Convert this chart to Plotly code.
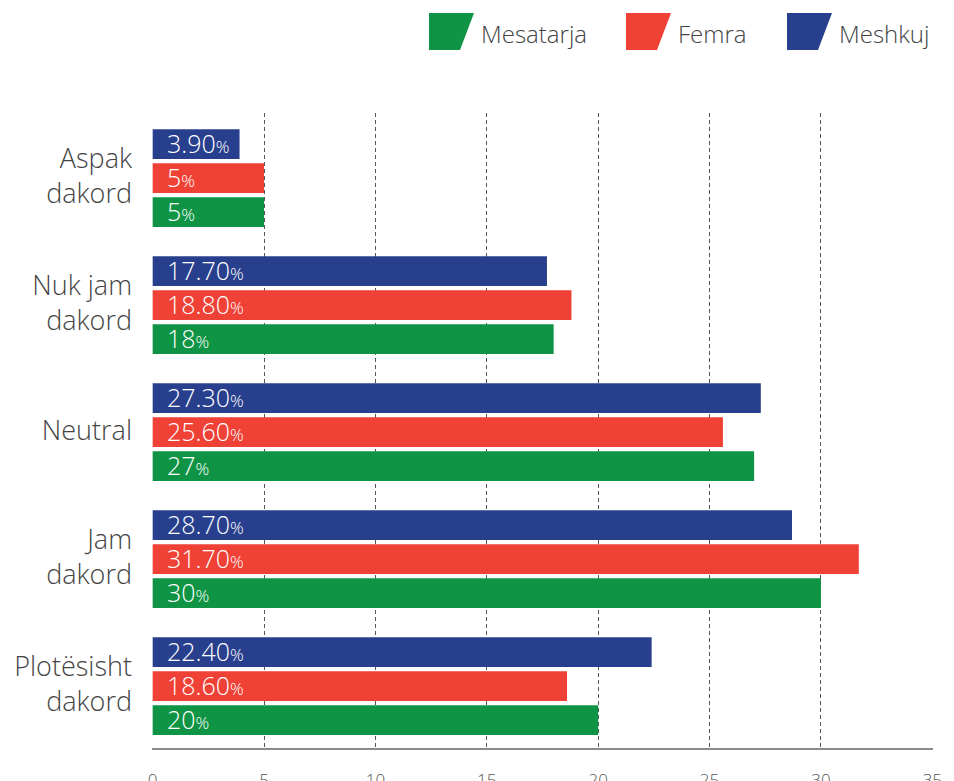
import plotly.graph_objects as go

# Response categories (top to bottom) and shares per group, in percent
categories = ["Aspak<br>dakord", "Nuk jam<br>dakord", "Neutral", "Jam<br>dakord", "Plotësisht<br>dakord"]
meshkuj = [3.9, 17.7, 27.3, 28.7, 22.4]
femra = [5, 18.8, 25.6, 31.7, 18.6]
mesatarja = [5, 18, 27, 30, 20]
x_ticks = [0, 5, 10, 15, 20, 25, 30, 35]

GREEN = "#0e9444"
RED = "#ef4136"
BLUE = "#283f8e"
FONT = "Open Sans"

series = [
    ("Meshkuj", meshkuj, BLUE, -0.372),
    ("Femra", femra, RED, -0.104),
    ("Mesatarja", mesatarja, GREEN, 0.163),
]
BAR_W = 0.234

positions = list(range(len(categories)))


def fmt(v):
    return f"{v:g}" if float(v).is_integer() else f"{v:.2f}"


fig = go.Figure()
annotations = []
for name, vals, color, off in series:
    fig.add_trace(go.Bar(
        name=name, x=vals, y=positions, orientation="h",
        marker=dict(color=color, line=dict(width=0)),
        width=BAR_W, offset=off, showlegend=False,
    ))
    for p, v in zip(positions, vals):
        annotations.append(dict(
            x=0, y=p + off + BAR_W / 2, xref="x", yref="y",
            xanchor="left", yanchor="middle", xshift=12, yshift=1, showarrow=False,
            text=f"{fmt(v)}<span style='font-size:17px'>%</span>",
            font=dict(family=FONT, size=25, color="#ffffff", weight=300),
        ))

# Legend drawn as slanted swatches with labels
L, T = 152, 113
PW, PH = 781, 635


def px_x(px):
    return (px - L) / PW


def px_y(py):
    return (T + PH - py) / PH


legend_items = [("Mesatarja", GREEN, 429), ("Femra", RED, 626), ("Meshkuj", BLUE, 787)]
shapes = []
for label, color, x0 in legend_items:
    pts = [(x0, 13), (x0 + 45, 13), (x0 + 31, 50), (x0, 50)]
    path = "M " + " L ".join(f"{px_x(a):.5f},{px_y(b):.5f}" for a, b in pts) + " Z"
    shapes.append(dict(type="path", xref="paper", yref="paper", path=path,
                       fillcolor=color, line=dict(width=0)))
    annotations.append(dict(
        x=px_x(x0 + 50), y=px_y(33), xref="paper", yref="paper",
        xanchor="left", yanchor="middle", showarrow=False, text=label,
        font=dict(family=FONT, size=24, color="#444444", weight=300),
    ))

fig.update_layout(
    width=954, height=781,
    margin=dict(l=L, r=954 - L - PW, t=T, b=781 - T - PH, autoexpand=False),
    paper_bgcolor="white", plot_bgcolor="white",
    barmode="overlay",
    showlegend=False,
    shapes=shapes,
    annotations=annotations,
    xaxis=dict(
        range=[-0.03, 35.03], tickvals=x_ticks, automargin=False,
        showgrid=True, gridcolor="#555555", gridwidth=1, griddash="4px,3px",
        zeroline=False, showline=True, linecolor="#8a8a8a", linewidth=2,
        ticks="", ticklabelstandoff=16,
        tickfont=dict(family=FONT, size=17, color="#555555", weight=300),
    ),
    yaxis=dict(
        range=[len(categories) - 0.5, -0.5], tickvals=positions, ticktext=categories,
        automargin=False,
        showgrid=False, zeroline=False, showline=False, ticks="",
        ticklabelstandoff=19,
        tickfont=dict(family=FONT, size=27, color="#444444", weight=300),
    ),
)

fig.write_html("out.html")
